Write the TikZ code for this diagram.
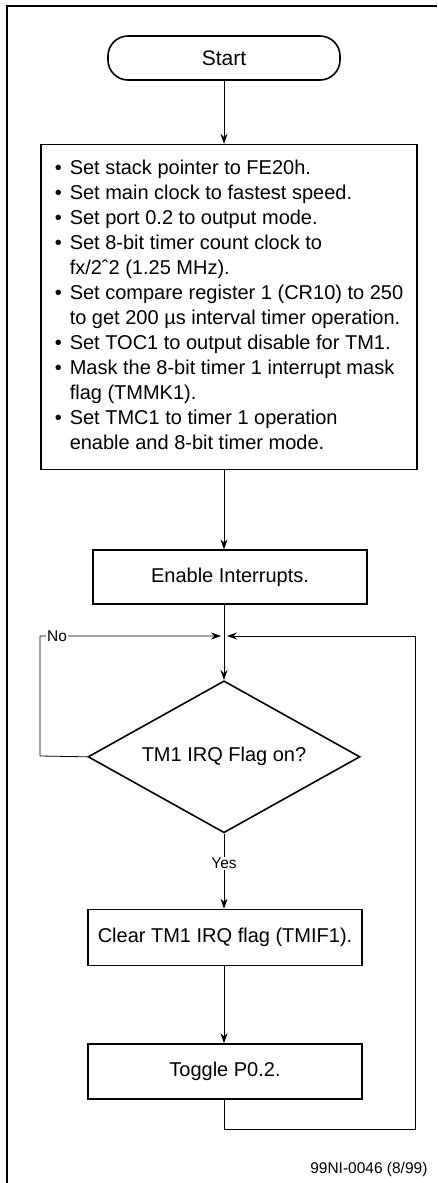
\documentclass[tikz,border=0pt]{standalone}
\usepackage{fontspec}
\setmainfont{Liberation Sans}
\usetikzlibrary{shapes.geometric,arrows.meta,positioning}

\begin{document}
\begin{tikzpicture}[x=1pt,y=-1pt,
  box/.style={rectangle, draw=black, line width=1.6pt, text centered, font=\fontsize{20}{25}\selectfont},
  lbl/.style={fill=white, inner sep=1pt, font=\fontsize{15.5}{18}\selectfont},
  arr/.style={line width=0.8pt, -{Stealth[length=10pt,width=7pt]}}]
\useasboundingbox (0,0) rectangle (437,1183);
% frame
\draw[line width=1.6pt] (7,1183) -- (7,6) -- (437,6);
\node[box, rounded corners=20pt, minimum width=232pt, minimum height=44pt, font=\fontsize{21}{25}\selectfont] at (224,58) (start) {Start};
\node[box, anchor=north, minimum width=376pt, minimum height=325pt, inner sep=0pt] at ([xshift=5pt,yshift=-63pt]start.south) (init) {%
\begin{tabular}{@{}l@{\hspace{8pt}}l@{}}
\textbullet & Set stack pointer to FE20h.\\
\textbullet & Set main clock to fastest speed.\\
\textbullet & Set port 0.2 to output mode.\\
\textbullet & Set 8-bit timer count clock to\\
 & fx/2ˆ2 (1.25 MHz).\\
\textbullet & Set compare register 1 (CR10) to 250\\
 & to get 200 µs interval timer operation.\\
\textbullet & Set TOC1 to output disable for TM1.\\
\textbullet & Mask the 8-bit timer 1 interrupt mask\\
 & flag (TMMK1).\\
\textbullet & Set TMC1 to timer 1 operation\\
 & enable and 8-bit timer mode.
\end{tabular}};
\node[box, anchor=north, minimum width=274pt, minimum height=54pt] at ([xshift=1pt,yshift=-79pt]init.south) (enable) {Enable Interrupts.};
\coordinate (junc) at (224,636);
\node[diamond, draw=black, line width=1.6pt, shape aspect=1.79, minimum width=272pt, minimum height=152pt, inner sep=0pt, anchor=north, font=\fontsize{20}{25}\selectfont] at ([yshift=-44pt]junc) (dec) {TM1 IRQ Flag on?};
\node[box, anchor=north, minimum width=274pt, minimum height=56pt] at ([xshift=1pt,yshift=-75pt]dec.south) (clear) {Clear TM1 IRQ flag (TMIF1).};
\node[box, anchor=north, minimum width=274pt, minimum height=55pt] at ([yshift=-77pt]clear.south) (toggle) {Toggle P0.2.};
\coordinate (back) at (224,1129);
\coordinate (backr) at (415,1129);
\coordinate (nol) at (40,756);
% connectors
\draw[arr] (start.south) -- (start.south |- init.north);
\draw[arr] (init.south -| junc) -- (enable.north -| junc);
\draw[arr] (enable.south -| junc) -- (dec.north);
\draw[arr] (dec.south) -- node[lbl, pos=0.4] (yes) {Yes} (dec.south |- clear.north);
\draw[arr] (clear.south -| dec.south) -- (toggle.north -| dec.south);
\draw[arr, shorten >=3pt] (toggle.south -| back) -- (back) -- (backr) -- (backr |- junc) -- (junc);
\draw[arr, shorten >=3pt] (dec.west) -- (nol) |- (junc);
\node[lbl] at (57,636) (no) {No};
\node[anchor=east, font=\fontsize{15.5}{18}\selectfont] at (431,1169) (code) {99NI-0046 (8/99)};
\end{tikzpicture}
\end{document}
